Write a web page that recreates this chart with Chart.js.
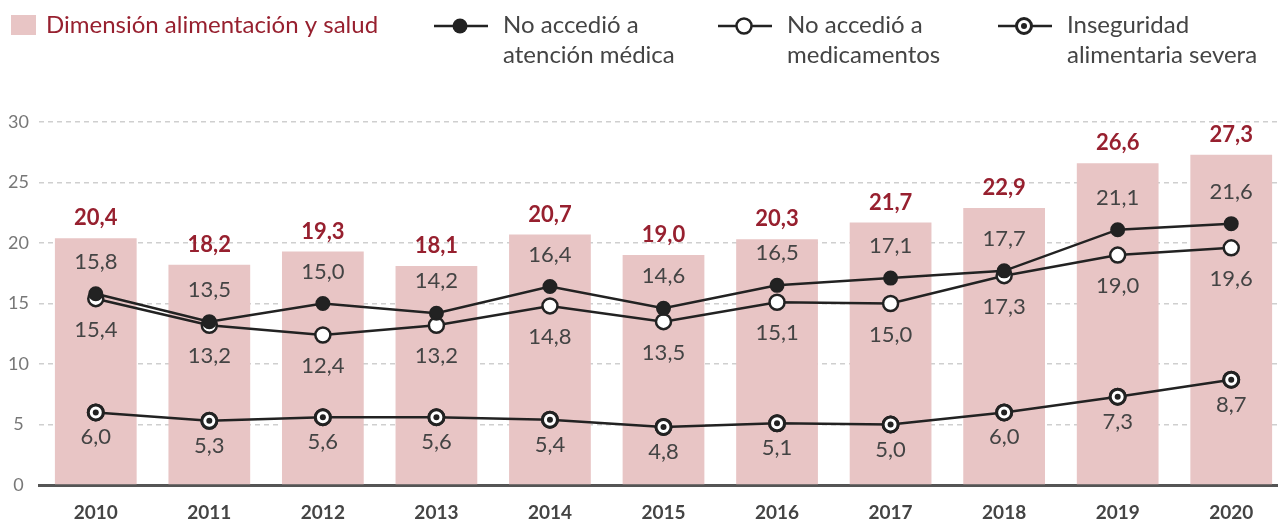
<!DOCTYPE html>
<html>
<head>
<meta charset="utf-8">
<script src="https://cdn.jsdelivr.net/npm/chart.js@4.4.1/dist/chart.umd.min.js"></script>
<style>
  html, body { margin: 0; padding: 0; background: #fff; overflow: hidden; }
  #wrap { position: relative; width: 1300px; height: 519px; }
</style>
</head>
<body>
<div id="wrap"><canvas id="graphCanvas"></canvas></div>
<script>
var years = ["2010", "2011", "2012", "2013", "2014", "2015", "2016", "2017", "2018", "2019", "2020"];
var dimension = [20.4, 18.2, 19.3, 18.1, 20.7, 19.0, 20.3, 21.7, 22.9, 26.6, 27.3];
var atencion = [15.8, 13.5, 15.0, 14.2, 16.4, 14.6, 16.5, 17.1, 17.7, 21.1, 21.6];
var medicamentos = [15.4, 13.2, 12.4, 13.2, 14.8, 13.5, 15.1, 15.0, 17.3, 19.0, 19.6];
var inseguridad = [6.0, 5.3, 5.6, 5.6, 5.4, 4.8, 5.1, 5.0, 6.0, 7.3, 8.7];
var yTicks = [0, 5, 10, 15, 20, 25, 30];

var barColor = "#e8c5c5";
var redText = "#97202f";
var grayText = "#444444";
var lineColor = "#222222";
var font = "Lato, 'Noto Sans', sans-serif";

function fmt(v) {
  return v.toFixed(1).replace(".", ",");
}

function dotMarker(ctx, x, y, type) {
  ctx.save();
  ctx.beginPath();
  ctx.arc(x, y, 7.5, 0, Math.PI * 2);
  ctx.fillStyle = type === "filled" ? lineColor : "#fff";
  ctx.fill();
  if (type !== "filled") {
    ctx.lineWidth = type === "dot" ? 3 : 2.5;
    ctx.strokeStyle = lineColor;
    ctx.stroke();
  }
  if (type === "dot") {
    ctx.beginPath();
    ctx.arc(x, y, 3, 0, Math.PI * 2);
    ctx.fillStyle = lineColor;
    ctx.fill();
  }
  ctx.restore();
}

var labelsPlugin = {
  id: "labels",
  afterDatasetsDraw: function (chart) {
    var ctx = chart.ctx;
    ctx.save();
    ctx.textAlign = "center";
    ctx.textBaseline = "middle";
    chart.data.datasets.forEach(function (ds, i) {
      var meta = chart.getDatasetMeta(i);
      meta.data.forEach(function (el, j) {
        if (ds.type === "bar") {
          ctx.font = "bold 22px " + font;
          ctx.fillStyle = redText;
          ctx.fillText(fmt(ds.data[j]), el.x, el.y - 20);
        } else {
          if (ds.marker === "dot") dotMarker(ctx, el.x, el.y, "dot");
          ctx.font = "22px " + font;
          ctx.fillStyle = grayText;
          ctx.fillText(fmt(ds.data[j]), el.x, el.y + ds.labelOffset);
        }
      });
    });
    ctx.restore();
  },
  afterDraw: function (chart) {
    var ctx = chart.ctx;
    ctx.save();
    // bar legend
    ctx.fillStyle = barColor;
    ctx.fillRect(11, 15, 25, 20);
    ctx.font = "24px " + font;
    ctx.fillStyle = redText;
    ctx.textBaseline = "middle";
    ctx.textAlign = "left";
    ctx.fillText("Dimensión alimentación y salud", 46, 25);

    var items = [
      { x: 434, type: "filled", lines: ["No accedió a", "atención médica"] },
      { x: 718, type: "open", lines: ["No accedió a", "medicamentos"] },
      { x: 998, type: "dot", lines: ["Inseguridad", "alimentaria severa"] }
    ];
    items.forEach(function (it) {
      ctx.beginPath();
      ctx.moveTo(it.x, 26);
      ctx.lineTo(it.x + 54, 26);
      ctx.strokeStyle = lineColor;
      ctx.lineWidth = 2.5;
      ctx.stroke();
      dotMarker(ctx, it.x + 26, 26, it.type);
      ctx.font = "24px " + font;
      ctx.fillStyle = grayText;
      ctx.fillText(it.lines[0], it.x + 69, 25);
      ctx.fillText(it.lines[1], it.x + 69, 55);
    });
    ctx.restore();
  }
};

new Chart(document.getElementById("graphCanvas"), {
  data: {
    labels: years,
    datasets: [
      {
        type: "line",
        label: "No accedió a atención médica",
        data: atencion,
        borderColor: lineColor,
        borderWidth: 2.5,
        pointRadius: 6.5,
        pointBorderWidth: 2,
        pointBackgroundColor: lineColor,
        pointBorderColor: lineColor,
        labelOffset: -32,
        order: 0
      },
      {
        type: "line",
        label: "No accedió a medicamentos",
        data: medicamentos,
        borderColor: lineColor,
        borderWidth: 2.5,
        pointRadius: 7.5,
        pointBorderWidth: 2.5,
        pointBackgroundColor: "#fff",
        pointBorderColor: lineColor,
        labelOffset: 31,
        order: 1
      },
      {
        type: "line",
        label: "Inseguridad alimentaria severa",
        data: inseguridad,
        borderColor: lineColor,
        borderWidth: 2.5,
        pointRadius: 7.5,
        pointBorderWidth: 3,
        pointBackgroundColor: "#fff",
        pointBorderColor: lineColor,
        marker: "dot",
        labelOffset: 25,
        order: 2
      },
      {
        type: "bar",
        label: "Dimensión alimentación y salud",
        data: dimension,
        backgroundColor: barColor,
        categoryPercentage: 1,
        barPercentage: 0.72,
        order: 3
      }
    ]
  },
  options: {
    responsive: true,
    maintainAspectRatio: false,
    animation: false,
    layout: { padding: { top: 122, right: 12, left: 0, bottom: 0 } },
    plugins: { legend: { display: false }, tooltip: { enabled: false } },
    scales: {
      x: {
        grid: { display: false },
        border: { color: "#555", width: 3 },
        ticks: {
          padding: 8,
          color: grayText,
          font: { family: font, size: 19, weight: "bold" }
        },
        afterFit: function (s) { s.height = 34; }
      },
      y: {
        min: 0,
        max: 30,
        afterBuildTicks: function (s) {
          s.ticks = yTicks.map(function (v) { return { value: v }; });
        },
        grid: {
          drawTicks: false,
          lineWidth: 1.5,
          color: function (c) { return c.tick && c.tick.value === 0 ? "rgba(0,0,0,0)" : "#cfcfcf"; }
        },
        border: { display: false, dash: [5, 4] },
        ticks: {
          padding: 10,
          crossAlign: "center",
          color: "#777",
          font: { family: font, size: 18 }
        },
        afterFit: function (s) { s.width = 39; }
      }
    }
  },
  plugins: [labelsPlugin]
});
</script>
</body>
</html>
